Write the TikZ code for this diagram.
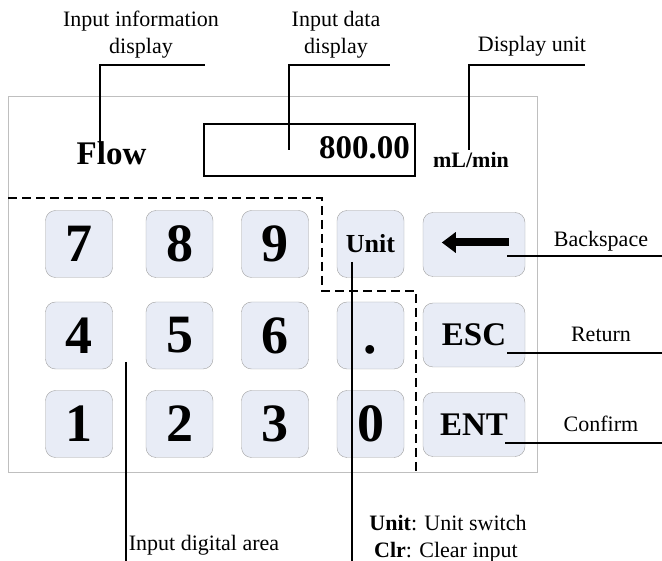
\documentclass[tikz,border=0pt]{standalone}
\usepackage{fontspec}
\setmainfont{Liberation Serif}
\usetikzlibrary{arrows.meta}
\definecolor{keyfill}{HTML}{E8ECF6}
\definecolor{keyline}{HTML}{A0A0A0}
\definecolor{panelline}{HTML}{BFBFBF}
\newcommand{\pxfont}[2]{\fontsize{#1}{#2}\selectfont}

\begin{document}
\begin{tikzpicture}[x=1pt,y=-1pt,
	key/.style={shape=rectangle,rounded corners=10pt,draw=keyline,fill=keyfill,minimum width=67pt,minimum height=67pt,inner sep=0pt,font=\bfseries\pxfont{54}{54}},
	widekey/.style={key,minimum width=102pt,minimum height=64pt,font=\bfseries\pxfont{33}{33}},
	lbl/.style={font=\pxfont{22}{27},inner sep=0pt,align=center},
	leader/.style={-,line width=1.2pt,black}]
					\useasboundingbox (0,0) rectangle (662,561);
					% panel and display
					\node[draw=panelline,line width=1pt,minimum width=529pt,minimum height=376pt,inner sep=0pt] (panel) at (272.5,285) {};
					\node[draw=black,line width=2pt,minimum width=211pt,minimum height=52pt,inner sep=0pt] (dispbox) at (309.5,150) {};
					\node[anchor=base,inner sep=0pt,font=\bfseries\pxfont{33}{33}] (flow) at (111.5,165) {Flow};
					\node[anchor=base east,inner sep=0pt,font=\bfseries\pxfont{33}{33}] (value) at (410,159) {800.00};
					\node[anchor=base,inner sep=0pt,font=\bfseries\pxfont{22}{22}] (unitval) at (471,168) {mL/min};
					
					% keys
					\node[key] (k7) at (79,244) {7};
					\node[key] (k8) at (179.5,244) {8};
					\node[key] (k9) at (275,244) {9};
					\node[key,font=\bfseries\pxfont{26}{26}] (kunit) at (370.5,244) {Unit};
					\node[key] (k4) at (79,335.5) {4};
					\node[key] (k5) at (179.5,335.5) {5};
					\node[key] (k6) at (275,335.5) {6};
					\node[key] (kdot) at (370.5,335.5) {\vphantom{0}.};
					\node[key] (k1) at (79,424) {1};
					\node[key] (k2) at (179.5,424) {2};
					\node[key] (k3) at (275,424) {3};
					\node[key] (k0) at (370.5,424) {0};
					\node[widekey] (bksp) at (474,244.5) {};
					\node[widekey] (esc) at (474,335) {ESC};
					\node[widekey] (ent) at (474,424.5) {ENT};
					\draw[line width=8pt,-{Triangle[length=14pt,width=20pt]}] ([xshift=-16pt,yshift=2pt]bksp.east) -- ([xshift=19pt,yshift=2pt]bksp.west);
					
					% digital area
					\draw[dashed,line width=1.4pt,dash pattern=on 9pt off 5pt] (8,198) -- (322,198) -- (322,291) -- (416,291) -- (416,473);
					
					% labels
					\node[lbl] (infolbl) at (141,34.5) {Input information\\display};
					\node[lbl] (datalbl) at (336,34.5) {Input data\\display};
					\node[lbl,anchor=base] (unitlbl) at (532,52) {Display unit};
					\node[lbl,anchor=base] (bklbl) at (601,247) {Backspace};
					\node[lbl,anchor=base] (esclbl) at (601,342) {Return};
					\node[lbl,anchor=base] (entlbl) at (601,432) {Confirm};
					\node[lbl,anchor=base] (arealbl) at (204,550) {Input digital area};
					\node[lbl,anchor=base] (unitsw) at (448,530) {\textbf{Unit}: Unit switch};
					\node[lbl,anchor=base] (clrin) at (446,557) {\textbf{Clr}: Clear input};
					
					% leader lines
					\coordinate (flowpt) at (100,150);
					\coordinate (infoend) at (205,65);
					\coordinate (datapt) at (289,150);
					\coordinate (dataend) at (390,65);
					\coordinate (unitpt) at (469,150);
					\coordinate (unitend) at (585,65);
					\coordinate (bkpt) at (507,256);
					\coordinate (bkend) at (662,256);
					\coordinate (escpt) at (507,353);
					\coordinate (escend) at (662,353);
					\coordinate (entpt) at (505,443);
					\coordinate (entend) at (662,443);
					\coordinate (areapt) at (126,362);
					\coordinate (areaend) at (126,561);
					\coordinate (kunitpt) at (352,262);
					\coordinate (kunitend) at (352,561);
					\path [leader] (flowpt) edge[to path={|- (\tikztotarget)}] (infoend);
					\path [leader] (datapt) edge[to path={|- (\tikztotarget)}] (dataend);
					\path [leader] (unitpt) edge[to path={|- (\tikztotarget)}] (unitend);
					\path [leader] (bkpt) edge (bkend);
					\path [leader] (escpt) edge (escend);
					\path [leader] (entpt) edge (entend);
					\path [leader] (areapt) edge (areaend);
					\path [leader] (kunitpt) edge (kunitend);
					\end{tikzpicture}
\end{document}
